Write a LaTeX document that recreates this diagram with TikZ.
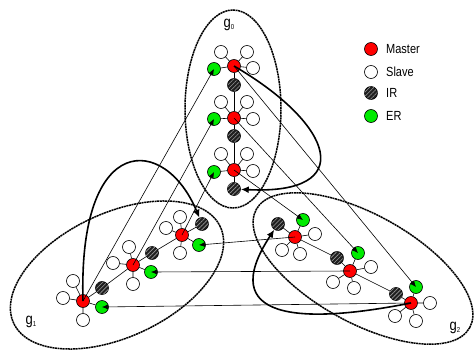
\documentclass[tikz,border=0pt]{standalone}
\usepackage{fontspec}
\setmainfont{Liberation Sans}
\usetikzlibrary{shapes.geometric,patterns.meta,arrows.meta}
\definecolor{erg}{RGB}{0,235,0}
\definecolor{msr}{RGB}{255,0,0}
\begin{document}
\begin{tikzpicture}[x=1pt,y=-1pt,
 nd/.style={circle,draw=black,line width=0.6pt,minimum size=13pt,inner sep=0pt},
 master/.style={nd,fill=msr},
 slave/.style={nd,fill=white},
 er/.style={nd,fill=erg},
 ir/.style={nd,fill=black!88,postaction={pattern={Lines[angle=45,distance=3pt,line width=0.6pt]},pattern color=black!40}},
 grp/.style={ellipse,draw,line width=1.5pt,dash pattern=on 2pt off 0.6pt,inner sep=0pt},
 tree/.style={line width=0.6pt},
 link/.style={line width=0.6pt,-{Latex[length=6pt,width=5pt]}},
 bigloop/.style={line width=1.6pt,-{Latex[length=8pt,width=7pt]}},
 lbl/.style={font=\fontsize{11}{13}\selectfont,anchor=west,inner sep=0pt},
 glbl/.style={font=\fontsize{13}{15}\selectfont,inner sep=0pt}
]
\useasboundingbox (0,0) rectangle (475,351);

% groups
\node[grp,minimum width=96pt,minimum height=198pt] (g0) at (233,109) {};
\node[grp,minimum width=228pt,minimum height=124pt,rotate=25] (g1) at (117,275) {};
\node[grp,minimum width=244pt,minimum height=108pt,rotate=-29] (g2) at (363,268.5) {};

\node[glbl] (lg0) at (229,25) {\scalebox{1}[1.2]{g\raisebox{-2pt}{\fontsize{6}{6}\selectfont 0}}};
\node[glbl] (lg1) at (31,322) {\scalebox{1}[1.2]{g\raisebox{-2pt}{\fontsize{6}{6}\selectfont 1}}};
\node[glbl] (lg2) at (455,328) {\scalebox{1}[1.2]{g\raisebox{-2pt}{\fontsize{6}{6}\selectfont 2}}};

% ---- group 0
\node[master] (m0a) at (234,66) {};
\node[er] (e0a) at (214,69) {};
\node[ir] (i0a) at (234,85) {};
\node[slave] (s0a1) at (221,52) {};
\node[slave] (s0a2) at (247,52) {};
\node[slave] (s0a3) at (253,68) {};
\node[master] (m0b) at (234,118) {};
\node[er] (e0b) at (214,119) {};
\node[ir] (i0b) at (234,136) {};
\node[slave] (s0b1) at (221,102) {};
\node[slave] (s0b2) at (247,102) {};
\node[slave] (s0b3) at (253,119) {};
\node[master] (m0c) at (234,170) {};
\node[er] (e0c) at (214,172) {};
\node[ir] (i0c) at (234,189) {};
\node[slave] (s0c1) at (221,154) {};
\node[slave] (s0c2) at (247,154) {};
\node[slave] (s0c3) at (253,171) {};

% ---- group 1
\node[master] (m1a) at (83,301) {};
\node[er] (e1a) at (102,307) {};
\node[ir] (i1a) at (102,288) {};
\node[slave] (s1a1) at (73,281) {};
\node[slave] (s1a2) at (63,298) {};
\node[slave] (s1a3) at (83,320) {};
\node[master] (m1b) at (133,265) {};
\node[er] (e1b) at (151,272) {};
\node[ir] (i1b) at (152,253) {};
\node[slave] (s1b1) at (129,247) {};
\node[slave] (s1b2) at (113,263) {};
\node[slave] (s1b3) at (133,284) {};
\node[master] (m1c) at (182,235) {};
\node[er] (e1c) at (199,245) {};
\node[ir] (i1c) at (202,224) {};
\node[slave] (s1c1) at (180,217) {};
\node[slave] (s1c2) at (166,228) {};
\node[slave] (s1c3) at (180,253) {};

% ---- group 2
\node[master] (m2d) at (295,237) {};
\node[er] (e2d) at (303,220) {};
\node[ir] (i2d) at (278,224) {};
\node[slave] (s2d1) at (315,234) {};
\node[slave] (s2d2) at (282,250) {};
\node[slave] (s2d3) at (300,254) {};
\node[master] (m2e) at (350,271) {};
\node[er] (e2e) at (358,253) {};
\node[ir] (i2e) at (337,258) {};
\node[slave] (s2e1) at (371,267) {};
\node[slave] (s2e2) at (333,282) {};
\node[slave] (s2e3) at (354,288) {};
\node[master] (m2f) at (411,303) {};
\node[er] (e2f) at (416,287) {};
\node[ir] (i2f) at (396,294) {};
\node[slave] (s2f1) at (430,303) {};
\node[slave] (s2f2) at (395,316) {};
\node[slave] (s2f3) at (416,321) {};

% tree lines
\foreach \g in {0a,0b,0c,1a,1b,1c,2d,2e,2f}{
  \draw[tree] (m\g) -- (s\g1) (m\g) -- (s\g2) (m\g) -- (s\g3) (m\g) -- (e\g);
}
\draw[tree] (m0a) -- (i0a) -- (m0b) -- (i0b) -- (m0c) -- (i0c);
\draw[tree] (m1a) -- (i1a) -- (m1b) -- (i1b) -- (m1c) -- (i1c);
\draw[tree] (i2d) -- (m2d) -- (i2e) -- (m2e) -- (i2f) -- (m2f);

% inter-group links
\draw[link] (m0a.center) -- (e2f.center);
\draw[link] (m0b.center) -- (e2e.center);
\draw[link] (m0c.center) -- (e2d.center);
\draw[link] (m1a.center) -- (e0a.center);
\draw[link] (m1b.center) -- (e0b.center);
\draw[link] (m1c.center) -- (e0c.center);
\draw[link] (m2d.center) -- (e1c.center);
\draw[link] (m2e.center) -- (e1b.center);
\draw[link] (m2f.center) -- (e1a.center);

% thick curves
\draw[bigloop] (m0a.center) .. controls (335,125) and (358,195) .. (i0c);
\draw[bigloop] (m1a.center) .. controls (78,130) and (165,135) .. (i1c);
\draw[bigloop] (m2f.center) .. controls (300,325) and (215,320) .. (i2d);

% legend
\node[master] (lm) at (371,49) {};
\node[slave] (ls) at (371,72) {};
\node[ir] (li) at (371,93) {};
\node[er] (le) at (371,116) {};
\node[lbl] (tm) at (386,49) {\scalebox{1}[1.2]{Master}};
\node[lbl] (ts) at (386,72) {\scalebox{1}[1.2]{Slave}};
\node[lbl] (ti) at (386,93) {\scalebox{1}[1.2]{IR}};
\node[lbl] (te) at (386,116) {\scalebox{1}[1.2]{ER}};
\end{tikzpicture}
\end{document}
